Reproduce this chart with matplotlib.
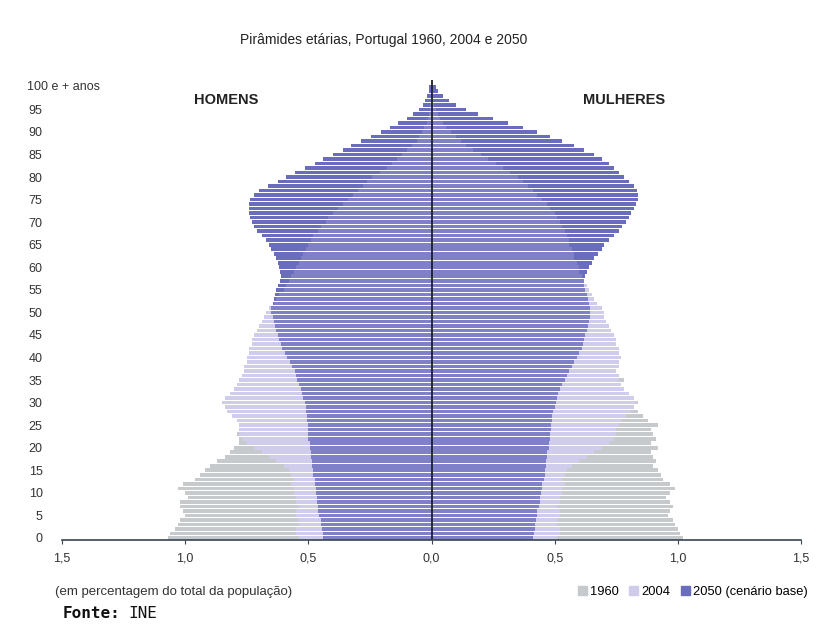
import numpy as np
import matplotlib
matplotlib.use('Agg')
import matplotlib.pyplot as plt
from matplotlib.patches import Patch

# Ages 0..100 (100 = "100 e + anos")
ages = list(range(101))

# Percentage of total population
homens_1960 = [1.07, 1.06, 1.04, 1.03, 1.02, 1.00, 1.01, 1.02, 1.02, 0.99,
               1.00, 1.03, 1.01, 0.96, 0.94, 0.92, 0.90, 0.87, 0.84, 0.82,
               0.80, 0.78, 0.78, 0.79, 0.76, 0.77, 0.75, 0.74, 0.73, 0.72,
               0.74, 0.70, 0.70, 0.69, 0.68, 0.70, 0.67, 0.66, 0.65, 0.64,
               0.66, 0.61, 0.60, 0.58, 0.56, 0.57, 0.54, 0.53, 0.52, 0.50,
               0.52, 0.47, 0.46, 0.45, 0.44, 0.43, 0.42, 0.41, 0.39, 0.38,
               0.39, 0.35, 0.34, 0.33, 0.31, 0.30, 0.29, 0.27, 0.26, 0.24,
               0.24, 0.21, 0.19, 0.18, 0.16, 0.15, 0.13, 0.12, 0.10, 0.09,
               0.08, 0.065, 0.055, 0.045, 0.035, 0.03, 0.02, 0.015, 0.01, 0.008,
               0.006, 0.004, 0.003, 0.002, 0.002, 0.001, 0.001, 0.001, 0.001, 0.001,
               0.001]
mulheres_1960 = [1.02, 1.01, 1.00, 0.99, 0.98, 0.96, 0.97, 0.98, 0.97, 0.95,
                 0.97, 0.99, 0.97, 0.94, 0.93, 0.92, 0.90, 0.91, 0.90, 0.89,
                 0.92, 0.89, 0.91, 0.90, 0.89, 0.92, 0.88, 0.86, 0.84, 0.82,
                 0.84, 0.79, 0.78, 0.77, 0.76, 0.78, 0.75, 0.74, 0.73, 0.71,
                 0.74, 0.69, 0.68, 0.66, 0.64, 0.65, 0.62, 0.61, 0.60, 0.58,
                 0.61, 0.56, 0.55, 0.54, 0.53, 0.52, 0.51, 0.50, 0.48, 0.47,
                 0.49, 0.44, 0.43, 0.42, 0.40, 0.40, 0.38, 0.36, 0.35, 0.33,
                 0.34, 0.30, 0.28, 0.26, 0.24, 0.23, 0.21, 0.19, 0.17, 0.15,
                 0.14, 0.12, 0.10, 0.085, 0.07, 0.06, 0.045, 0.035, 0.025, 0.02,
                 0.015, 0.01, 0.007, 0.005, 0.004, 0.003, 0.002, 0.002, 0.001, 0.001,
                 0.002]
homens_2004 = [0.54, 0.55, 0.55, 0.54, 0.54, 0.55, 0.55, 0.54, 0.55, 0.55,
               0.56, 0.56, 0.57, 0.56, 0.57, 0.58, 0.60, 0.63, 0.66, 0.69,
               0.72, 0.75, 0.77, 0.78, 0.78, 0.78, 0.79, 0.81, 0.83, 0.84,
               0.85, 0.84, 0.82, 0.80, 0.79, 0.78, 0.77, 0.76, 0.76, 0.75,
               0.75, 0.74, 0.74, 0.73, 0.73, 0.72, 0.71, 0.70, 0.69, 0.68,
               0.67, 0.66, 0.64, 0.63, 0.62, 0.60, 0.59, 0.58, 0.57, 0.56,
               0.55, 0.54, 0.53, 0.52, 0.51, 0.50, 0.49, 0.48, 0.46, 0.45,
               0.43, 0.42, 0.40, 0.38, 0.36, 0.34, 0.32, 0.30, 0.28, 0.26,
               0.24, 0.21, 0.18, 0.16, 0.14, 0.12, 0.10, 0.08, 0.06, 0.05,
               0.04, 0.03, 0.02, 0.015, 0.01, 0.008, 0.005, 0.004, 0.003, 0.002,
               0.003]
mulheres_2004 = [0.51, 0.52, 0.52, 0.51, 0.51, 0.52, 0.52, 0.51, 0.52, 0.52,
                 0.53, 0.53, 0.54, 0.53, 0.54, 0.55, 0.57, 0.60, 0.63, 0.66,
                 0.69, 0.72, 0.74, 0.75, 0.75, 0.76, 0.77, 0.79, 0.81, 0.82,
                 0.83, 0.82, 0.80, 0.78, 0.77, 0.76, 0.76, 0.75, 0.76, 0.76,
                 0.77, 0.76, 0.76, 0.75, 0.75, 0.74, 0.73, 0.72, 0.71, 0.70,
                 0.70, 0.69, 0.67, 0.66, 0.65, 0.64, 0.63, 0.62, 0.61, 0.60,
                 0.60, 0.59, 0.58, 0.58, 0.57, 0.56, 0.56, 0.55, 0.54, 0.53,
                 0.52, 0.51, 0.50, 0.48, 0.47, 0.45, 0.43, 0.41, 0.39, 0.37,
                 0.35, 0.32, 0.29, 0.26, 0.23, 0.20, 0.17, 0.14, 0.12, 0.10,
                 0.08, 0.06, 0.045, 0.035, 0.025, 0.018, 0.012, 0.008, 0.005, 0.004,
                 0.006]
homens_2050 = [0.44, 0.44, 0.445, 0.45, 0.45, 0.455, 0.46, 0.46, 0.465, 0.465,
               0.47, 0.47, 0.475, 0.475, 0.48, 0.48, 0.485, 0.485, 0.49, 0.49,
               0.495, 0.495, 0.50, 0.50, 0.50, 0.50, 0.505, 0.505, 0.51, 0.51,
               0.515, 0.52, 0.525, 0.53, 0.54, 0.545, 0.55, 0.555, 0.565, 0.575,
               0.585, 0.595, 0.605, 0.61, 0.62, 0.625, 0.63, 0.635, 0.64, 0.645,
               0.65, 0.65, 0.645, 0.64, 0.635, 0.63, 0.625, 0.615, 0.61, 0.615,
               0.62, 0.625, 0.63, 0.64, 0.65, 0.66, 0.67, 0.69, 0.71, 0.72,
               0.73, 0.735, 0.74, 0.74, 0.74, 0.735, 0.72, 0.70, 0.665, 0.625,
               0.59, 0.555, 0.515, 0.475, 0.44, 0.40, 0.36, 0.325, 0.285, 0.245,
               0.205, 0.17, 0.135, 0.10, 0.075, 0.05, 0.035, 0.025, 0.017, 0.012,
               0.012]
mulheres_2050 = [0.41, 0.415, 0.42, 0.42, 0.425, 0.43, 0.43, 0.435, 0.44, 0.44,
                 0.445, 0.45, 0.45, 0.455, 0.46, 0.46, 0.465, 0.465, 0.47, 0.47,
                 0.475, 0.475, 0.48, 0.48, 0.485, 0.485, 0.49, 0.49, 0.495, 0.50,
                 0.505, 0.51, 0.515, 0.52, 0.53, 0.54, 0.55, 0.56, 0.57, 0.58,
                 0.59, 0.60, 0.61, 0.615, 0.62, 0.625, 0.63, 0.635, 0.64, 0.645,
                 0.645, 0.645, 0.64, 0.635, 0.63, 0.625, 0.62, 0.62, 0.625, 0.63,
                 0.64, 0.65, 0.66, 0.675, 0.69, 0.70, 0.72, 0.74, 0.76, 0.775,
                 0.79, 0.80, 0.81, 0.82, 0.83, 0.84, 0.84, 0.835, 0.82, 0.80,
                 0.78, 0.76, 0.74, 0.72, 0.69, 0.66, 0.62, 0.58, 0.53, 0.48,
                 0.43, 0.37, 0.31, 0.25, 0.19, 0.14, 0.10, 0.07, 0.045, 0.025,
                 0.02]

x_ticks = [-1.5, -1.0, -0.5, 0.0, 0.5, 1.0, 1.5]
x_labels = ['1,5', '1,0', '0,5', '0,0', '0,5', '1,0', '1,5']
y_ticks = list(range(0, 100, 5))

c1960 = '#c6cacd'
c2004 = '#cfcbea'
c2050 = '#6a6cbd'

plt.rcParams['font.family'] = ['Liberation Sans', 'DejaVu Sans']

fig = plt.figure(figsize=(8.27, 6.31), dpi=100)
ax = fig.add_axes([0.075, 0.1442, 0.8936, 0.729])

h = 0.8
# draw order: 1960 under, 2004, then 2050; 2004 again lightly on top
for vals_m, vals_f, col in [(homens_1960, mulheres_1960, c1960),
                            (homens_2004, mulheres_2004, c2004),
                            (homens_2050, mulheres_2050, c2050)]:
    ax.barh(ages, -np.array(vals_m), height=h, color=col, linewidth=0)
    ax.barh(ages, vals_f, height=h, color=col, linewidth=0)
ax.barh(ages, -np.array(homens_2004), height=h, color='#d8d4f0', alpha=0.2, linewidth=0)
ax.barh(ages, mulheres_2004, height=h, color='#d8d4f0', alpha=0.2, linewidth=0)

ax.axvline(0, color='#1a1f2e', linewidth=1.3)

ax.set_xlim(-1.5, 1.5)
ax.set_ylim(-0.45, 101.5)
for s in ['left', 'right', 'top']:
    ax.spines[s].set_visible(False)
ax.spines['bottom'].set_color('#3a4350')
ax.spines['bottom'].set_linewidth(1.2)

ax.set_xticks(x_ticks)
ax.set_xticklabels(x_labels, fontsize=9, color='#333333')
ax.tick_params(axis='x', length=3, color='#3a4350', pad=6)
ax.set_yticks(y_ticks)
ax.set_yticklabels([str(v) for v in y_ticks], fontsize=9, color='#333333')
ax.tick_params(axis='y', length=0, pad=14)
ax.text(-0.047, 100, '100 e + anos', transform=ax.get_yaxis_transform(),
        fontsize=9, color='#333333', ha='left', va='center')

fig.text(0.464, 0.937, 'Pirâmides etárias, Portugal 1960, 2004 e 2050',
         fontsize=10, color='#222222', ha='center', va='center')
fig.text(0.273, 0.842, 'HOMENS', fontsize=10.5, fontweight='bold',
         color='#222222', ha='center', va='center')
fig.text(0.755, 0.842, 'MULHERES', fontsize=10.5, fontweight='bold',
         color='#222222', ha='center', va='center')
fig.text(0.067, 0.062, '(em percentagem do total da população)',
         fontsize=9.5, color='#333333', ha='left', va='center')

fig.text(0.076, 0.027, 'Fonte:', family='DejaVu Sans Mono', fontweight='bold',
         fontsize=11.5, color='#111111', ha='left', va='center')
fig.text(0.155, 0.027, 'INE', family='DejaVu Sans Mono',
         fontsize=11.5, color='#111111', ha='left', va='center')

handles = [Patch(color=c1960, label='1960'), Patch(color=c2004, label='2004'),
           Patch(color=c2050, label='2050 (cenário base)')]
fig.legend(handles=handles, loc='center right', bbox_to_anchor=(0.983, 0.062),
           ncol=3, frameon=False, fontsize=9.3, handlelength=0.7, handleheight=0.7,
           handletextpad=0.25, columnspacing=0.8, borderaxespad=0)

fig.savefig('out.png', dpi=100, facecolor='white')
